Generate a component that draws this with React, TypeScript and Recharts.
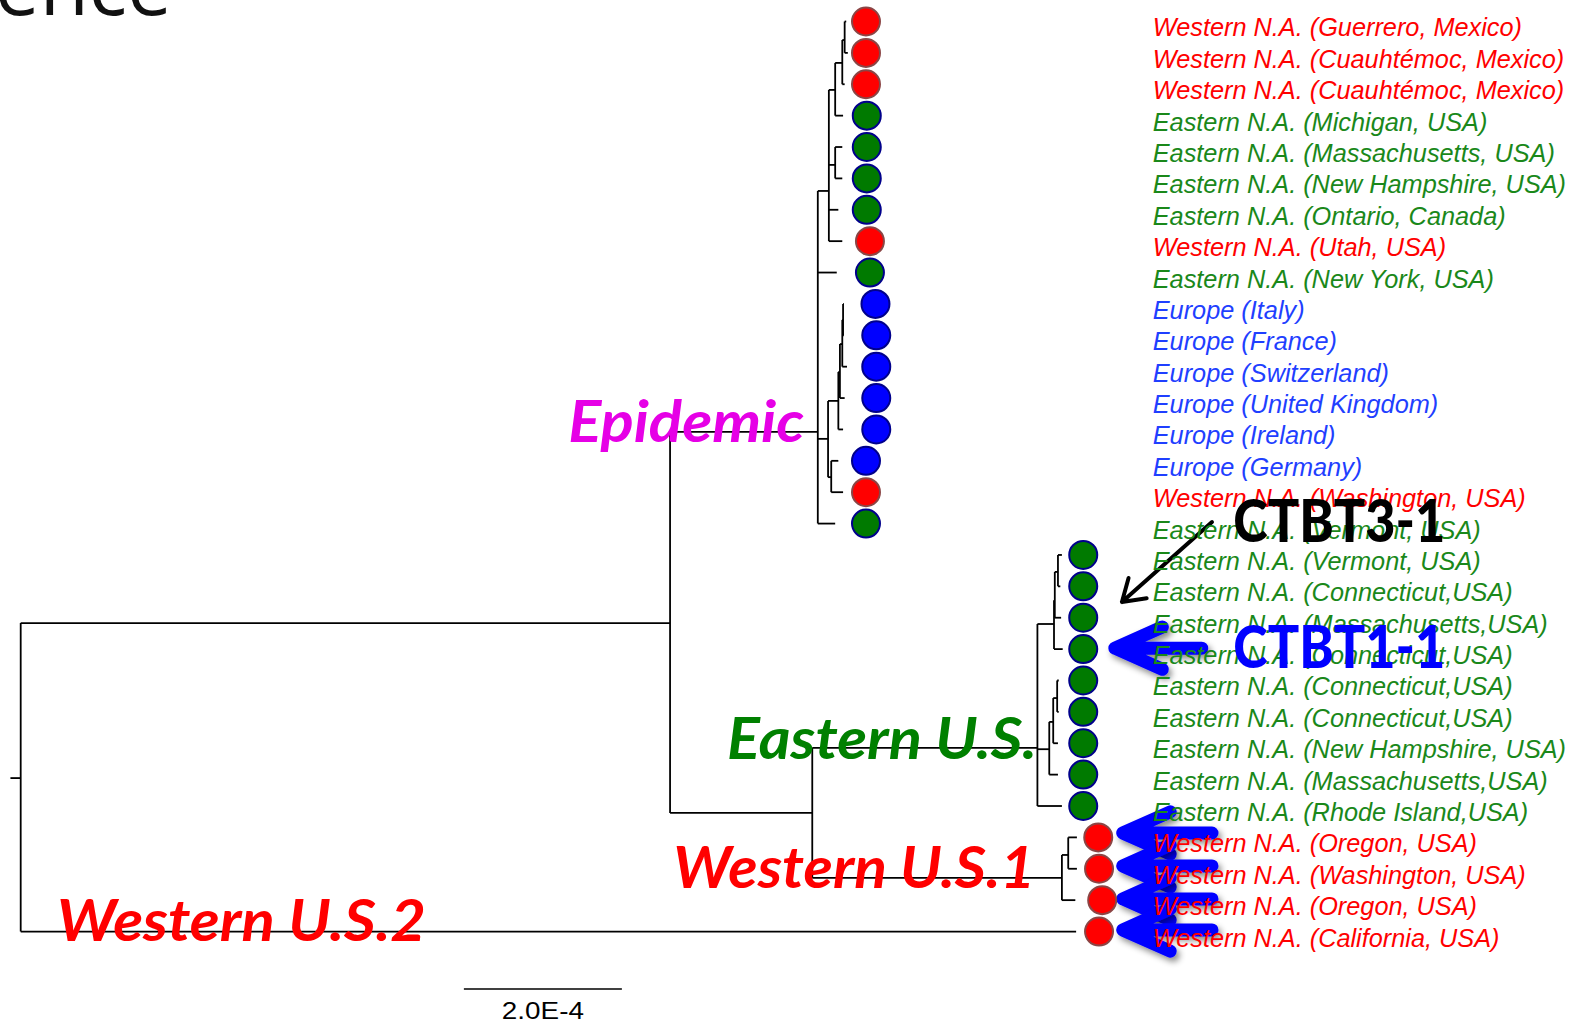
import React from 'react';
import {
  ScatterChart,
  Scatter,
  XAxis,
  YAxis,
  ReferenceLine,
  ReferenceDot,
} from 'recharts';

// x = branch length in units of 1e-4 subst./site, y = leaf row (0 = top)
const leafNames = [
  'Western N.A. (Guerrero, Mexico)',
  'Western N.A. (Cuauhtémoc, Mexico)',
  'Western N.A. (Cuauhtémoc, Mexico)',
  'Eastern N.A. (Michigan, USA)',
  'Eastern N.A. (Massachusetts, USA)',
  'Eastern N.A. (New Hampshire, USA)',
  'Eastern N.A. (Ontario, Canada)',
  'Western N.A. (Utah, USA)',
  'Eastern N.A. (New York, USA)',
  'Europe (Italy)',
  'Europe (France)',
  'Europe (Switzerland)',
  'Europe (United Kingdom)',
  'Europe (Ireland)',
  'Europe (Germany)',
  'Western N.A. (Washington, USA)',
  'Eastern N.A. (Vermont, USA)',
  'Eastern N.A. (Vermont, USA)',
  'Eastern N.A. (Connecticut,USA)',
  'Eastern N.A. (Massachusetts,USA)',
  'Eastern N.A. (Connecticut,USA)',
  'Eastern N.A. (Connecticut,USA)',
  'Eastern N.A. (Connecticut,USA)',
  'Eastern N.A. (New Hampshire, USA)',
  'Eastern N.A. (Massachusetts,USA)',
  'Eastern N.A. (Rhode Island,USA)',
  'Western N.A. (Oregon, USA)',
  'Western N.A. (Washington, USA)',
  'Western N.A. (Oregon, USA)',
  'Western N.A. (California, USA)',
];

const leafRegion = [
  'W', 'W', 'W', 'E', 'E', 'E', 'E', 'W', 'E',
  'EU', 'EU', 'EU', 'EU', 'EU', 'EU', 'W', 'E',
  'E', 'E', 'E', 'E', 'E', 'E', 'E', 'E', 'E',
  'W', 'W', 'W', 'W',
];

const leafParent = [
  'A', 'A', 'B', 'C', 'E', 'E', 'D', 'D', 'E0',
  'G4', 'G4', 'G3', 'G2', 'G1', 'G5', 'G5', 'E0',
  'I', 'I', 'H', 'G', 'Ln', 'Ln', 'K', 'J', 'EA',
  'M', 'M', 'W1', 'root',
];

const leafTipX = [
  10.45, 10.47, 10.43, 10.41, 10.4, 10.4, 10.35, 10.4, 10.33,
  10.42, 10.42, 10.46, 10.43, 10.41, 10.35, 10.41, 10.31,
  13.18, 13.16, 13.17, 13.19, 13.14, 13.14, 13.13, 13.13, 13.18,
  13.37, 13.37, 13.35, 13.36,
];

const leafDotX = [
  10.7, 10.7, 10.7, 10.71, 10.71, 10.71, 10.71, 10.75, 10.75,
  10.82, 10.83, 10.83, 10.83, 10.83, 10.7, 10.7, 10.7,
  13.45, 13.45, 13.45, 13.45, 13.45, 13.45, 13.45, 13.45, 13.45,
  13.64, 13.65, 13.69, 13.65,
];

// internal nodes
const nodeIds = ['root', 'U', 'E0', 'D', 'C', 'B', 'A', 'E', 'F', 'G1', 'G2', 'G3', 'G4', 'G5', 'L', 'EA', 'G', 'H', 'I', 'J', 'K', 'Ln', 'W1', 'M'];
const nodeParent = [null, 'root', 'U', 'E0', 'D', 'C', 'B', 'D', 'E0', 'F', 'G1', 'G2', 'G3', 'F', 'U', 'L', 'EA', 'G', 'H', 'EA', 'J', 'K', 'L', 'W1'];
const nodeX = [0, 8.22, 10.09, 10.23, 10.31, 10.4, 10.43, 10.31, 10.22, 10.35, 10.37, 10.4, 10.41, 10.26, 10.02, 12.87, 13.08, 13.09, 13.13, 13.02, 13.07, 13.12, 13.18, 13.26];
const nodeY = [24.11, 19.17, 13.08, 5.4, 2.18, 1.32, 0.59, 4.57, 13.3, 12.09, 11.17, 10.28, 9.51, 14.52, 25.22, 23.15, 19.2, 18.44, 17.54, 23.19, 22.32, 21.56, 27.29, 26.56];
const rootStubX = -0.13;

const labelX = 14.33;

const cladeNames = ['Epidemic', 'Eastern U.S.', 'Western U.S.1', 'Western U.S.2'];
const cladeColors = ['#e600e6', '#008000', '#ff0000', '#ff0000'];
const cladeX = [6.93, 8.94, 8.26, 0.46];
const cladeY = [13.4, 23.5, 27.61, 29.3];
const cladeWidth = [236, 310, 362, 369];

const strainNames = ['CTBT3-1', 'CTBT1-1'];
const strainColors = ['#000000', '#0000ff'];
const strainX = [15.35, 15.35];
const strainY = [16.58, 20.6];

// arrows: tail -> tip
const blackArrow = { tailX: 15.08, tailY: 15.95, tipX: 13.94, tipY: 18.5 };
const blueArrowTipX = [13.85, 13.95, 13.95, 13.95, 13.95];
const blueArrowTailX = [14.95, 15.08, 15.08, 15.08, 15.08];
const blueArrowY = [19.97, 25.86, 26.91, 27.96, 28.95];

const scaleBar = { x1: 5.61, x2: 7.61, y: 30.83, label: '2.0E-4' };

const X_DOMAIN = [-0.262, 19.675];
const Y_DOMAIN = [-0.685, 31.915];

const DOT_FILL: Record<string, string> = { W: '#ff0000', E: '#007a00', EU: '#0000ff' };
const DOT_STROKE: Record<string, string> = { W: '#8b4545', E: '#00008b', EU: '#00008b' };
const TEXT_FILL: Record<string, string> = { W: '#ff0000', E: '#1a881a', EU: '#1f3fff' };

type Seg = { x1: number; y1: number; x2: number; y2: number };

function buildBranches(): Seg[] {
  const segs: Seg[] = [];
  const idx = (id: string) => nodeIds.indexOf(id);
  const spans: Record<string, number[]> = {};
  nodeIds.forEach((id, i) => (spans[id] = [nodeY[i]]));

  nodeIds.forEach((id, i) => {
    const p = nodeParent[i];
    if (!p) return;
    const pi = idx(p);
    segs.push({ x1: nodeX[pi], y1: nodeY[i], x2: nodeX[i], y2: nodeY[i] });
    spans[p].push(nodeY[i]);
  });
  leafParent.forEach((p, row) => {
    const pi = idx(p);
    segs.push({ x1: nodeX[pi], y1: row, x2: leafTipX[row], y2: row });
    spans[p].push(row);
  });
  nodeIds.forEach((id, i) => {
    const ys = spans[id];
    segs.push({ x1: nodeX[i], y1: Math.min(...ys), x2: nodeX[i], y2: Math.max(...ys) });
  });
  segs.push({ x1: rootStubX, y1: nodeY[0], x2: nodeX[0], y2: nodeY[0] });
  return segs;
}

const branches = buildBranches();

const dotData = leafNames.map((name, i) => ({ x: leafDotX[i], y: i, region: leafRegion[i] }));
const labelData = leafNames.map((name, i) => ({ x: labelX, y: i, name, region: leafRegion[i] }));

const arrowShape = (color: string, width: number, head: number, spreadDeg: number, shadow: boolean, id: string) =>
  (p: any) => {
    const { x1, y1, x2, y2 } = p;
    const t = Math.atan2(y1 - y2, x1 - x2);
    const a = (spreadDeg * Math.PI) / 180;
    const ax = x2 + head * Math.cos(t + a);
    const ay = y2 + head * Math.sin(t + a);
    const bx = x2 + head * Math.cos(t - a);
    const by = y2 + head * Math.sin(t - a);
    return (
      <g>
        {shadow && (
          <defs>
            <filter id={id} x="-50%" y="-50%" width="200%" height="200%">
              <feDropShadow dx="3" dy="4" stdDeviation="3" floodColor="#000" floodOpacity="0.45" />
            </filter>
          </defs>
        )}
        <path
          d={`M${x1},${y1} L${x2},${y2} M${ax},${ay} L${x2},${y2} L${bx},${by}`}
          stroke={color}
          strokeWidth={width}
          fill="none"
          strokeLinecap="round"
          strokeLinejoin="round"
          filter={shadow ? `url(#${id})` : undefined}
        />
      </g>
    );
  };

export default function App() {
  return (
    <div style={{ position: 'absolute', left: 0, top: 0, width: 1575, height: 1023, background: '#fff' }}>
      <ScatterChart width={1575} height={1023} margin={{ top: 0, right: 0, bottom: 0, left: 0 }}>
        <XAxis type="number" dataKey="x" domain={X_DOMAIN} allowDataOverflow hide />
        <YAxis type="number" dataKey="y" domain={Y_DOMAIN} allowDataOverflow reversed hide />

        {/* slide title remnant */}
        <ReferenceDot
          x={1.915}
          y={-0.22}
          ifOverflow="visible"
          shape={(p: any) => (
            <text x={p.cx} y={p.cy} textAnchor="end" fontFamily="Open Sans" fontSize={80} fill="#111">
              evidence
            </text>
          )}
        />

        {cladeNames.map((name, i) => (
          <ReferenceDot
            key={name}
            x={cladeX[i]}
            y={cladeY[i]}
            ifOverflow="visible"
            shape={(p: any) => (
              <text
                x={p.cx}
                y={p.cy}
                fontFamily="Lato"
                fontWeight="bold"
                fontStyle="italic"
                fontSize={58}
                fill={cladeColors[i]}
                textLength={cladeWidth[i]}
                lengthAdjust="spacingAndGlyphs"
              >
                {name}
              </text>
            )}
          />
        ))}

        {branches.map((s, i) => (
          <ReferenceLine
            key={`b${i}`}
            segment={[{ x: s.x1, y: s.y1 }, { x: s.x2, y: s.y2 }]}
            stroke="#000"
            strokeWidth={1.8}
            ifOverflow="visible"
          />
        ))}

        <ReferenceLine
          segment={[{ x: scaleBar.x1, y: scaleBar.y }, { x: scaleBar.x2, y: scaleBar.y }]}
          ifOverflow="visible"
          shape={(p: any) => (
            <g>
              <line x1={p.x1} y1={p.y1} x2={p.x2} y2={p.y2} stroke="#000" strokeWidth={1.6} />
              <text
                x={(p.x1 + p.x2) / 2}
                y={p.y1 + 30}
                textAnchor="middle"
                fontFamily="Liberation Sans"
                fontSize={23}
                fill="#000"
                textLength={82}
                lengthAdjust="spacingAndGlyphs"
              >
                {scaleBar.label}
              </text>
            </g>
          )}
        />

        <Scatter
          data={dotData}
          isAnimationActive={false}
          shape={(p: any) => (
            <circle
              cx={p.cx}
              cy={p.cy}
              r={14}
              fill={DOT_FILL[p.payload.region]}
              stroke={DOT_STROKE[p.payload.region]}
              strokeWidth={2}
            />
          )}
        />

        <Scatter
          data={labelData}
          isAnimationActive={false}
          shape={(p: any) => (
            <text
              x={p.cx}
              y={p.cy + 15}
              fontFamily="Liberation Sans"
              fontStyle="italic"
              fontSize={25.3}
              fill={TEXT_FILL[p.payload.region]}
            >
              {p.payload.name}
            </text>
          )}
        />

        {strainNames.map((name, i) => (
          <ReferenceDot
            key={name}
            x={strainX[i]}
            y={strainY[i]}
            ifOverflow="visible"
            shape={(p: any) => (
              <text
                x={p.cx}
                y={p.cy}
                fontFamily="Lato"
                fontWeight="900"
                fontSize={59}
                fill={strainColors[i]}
                textLength={212}
                lengthAdjust="spacingAndGlyphs"
              >
                {name}
              </text>
            )}
          />
        ))}

        <ReferenceLine
          segment={[
            { x: blackArrow.tailX, y: blackArrow.tailY },
            { x: blackArrow.tipX, y: blackArrow.tipY },
          ]}
          ifOverflow="visible"
          shape={arrowShape('#000', 4, 25, 33, false, 'blk')}
        />

        {blueArrowY.map((y, i) => (
          <ReferenceLine
            key={`a${i}`}
            segment={[
              { x: blueArrowTailX[i], y },
              { x: blueArrowTipX[i], y },
            ]}
            ifOverflow="visible"
            shape={arrowShape('#0000ff', 13, 52, 24, true, `shadow${i}`)}
          />
        ))}
      </ScatterChart>
    </div>
  );
}
